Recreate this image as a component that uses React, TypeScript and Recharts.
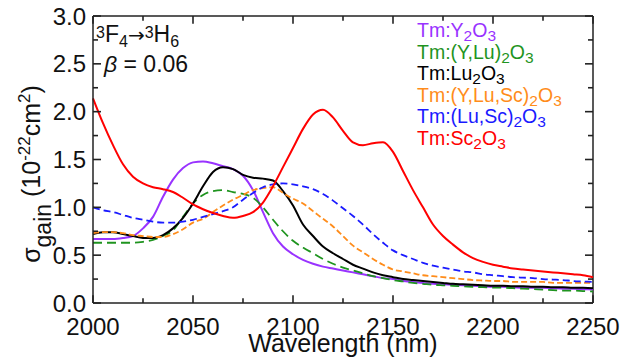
import React from 'react'
import { LineChart, Line, XAxis, YAxis, ReferenceLine, Customized } from 'recharts'

// wavelength grid (nm)
const WAVELENGTHS = [
  2000, 2005, 2010, 2015, 2020, 2025, 2030, 2035, 2040, 2045,
  2050, 2055, 2060, 2065, 2070, 2075, 2080, 2085, 2090, 2095,
  2100, 2105, 2110, 2115, 2120, 2125, 2130, 2135, 2140, 2145,
  2150, 2155, 2160, 2165, 2170, 2175, 2180, 2185, 2190, 2195,
  2200, 2205, 2210, 2215, 2220, 2225, 2230, 2235, 2240, 2245, 2250,
]

// gain cross-section, 10^-22 cm^2
const Y2O3 = [
  0.67, 0.67, 0.67, 0.68, 0.70, 0.78, 0.90, 1.11, 1.29, 1.41,
  1.47, 1.48, 1.46, 1.43, 1.40, 1.33, 1.18, 0.95, 0.73, 0.59,
  0.51, 0.45, 0.41, 0.38, 0.36, 0.34, 0.32, 0.30, 0.28, 0.26,
  0.25, 0.23, 0.22, 0.21, 0.20, 0.195, 0.19, 0.185, 0.18, 0.175,
  0.17, 0.17, 0.165, 0.16, 0.16, 0.16, 0.155, 0.15, 0.15, 0.145, 0.14,
]
const YLU2O3 = [
  0.63, 0.63, 0.63, 0.63, 0.63, 0.64, 0.66, 0.70, 0.76, 0.90,
  1.04, 1.13, 1.17, 1.18, 1.16, 1.14, 1.10, 1.00, 0.87, 0.75,
  0.65, 0.58, 0.52, 0.46, 0.41, 0.37, 0.34, 0.31, 0.28, 0.26,
  0.24, 0.225, 0.21, 0.20, 0.19, 0.185, 0.18, 0.175, 0.17, 0.165,
  0.16, 0.16, 0.155, 0.15, 0.145, 0.14, 0.135, 0.13, 0.13, 0.125, 0.12,
]
const LU2O3 = [
  0.72, 0.74, 0.74, 0.72, 0.70, 0.68, 0.68, 0.71, 0.78, 0.89,
  1.04, 1.22, 1.37, 1.42, 1.40, 1.34, 1.31, 1.30, 1.28, 1.17,
  1.02, 0.82, 0.70, 0.59, 0.52, 0.46, 0.40, 0.36, 0.32, 0.29,
  0.27, 0.25, 0.24, 0.23, 0.22, 0.21, 0.20, 0.195, 0.19, 0.185,
  0.18, 0.18, 0.175, 0.175, 0.17, 0.17, 0.165, 0.165, 0.16, 0.16, 0.155,
]
const YLUSC2O3 = [
  0.73, 0.74, 0.74, 0.73, 0.71, 0.70, 0.69, 0.69, 0.72, 0.77,
  0.84, 0.88, 0.95, 1.02, 1.08, 1.13, 1.18, 1.20, 1.21, 1.15,
  1.09, 1.04, 0.96, 0.88, 0.80, 0.70, 0.60, 0.53, 0.46, 0.40,
  0.35, 0.33, 0.31, 0.29, 0.28, 0.27, 0.26, 0.25, 0.24, 0.235,
  0.23, 0.23, 0.22, 0.22, 0.22, 0.22, 0.21, 0.21, 0.21, 0.21, 0.21,
]
const LUSC2O3 = [
  1.00, 0.97, 0.95, 0.92, 0.89, 0.87, 0.85, 0.84, 0.84, 0.85,
  0.87, 0.90, 0.93, 0.96, 1.00, 1.08, 1.15, 1.21, 1.24, 1.25,
  1.24, 1.22, 1.19, 1.14, 1.07, 0.99, 0.91, 0.82, 0.72, 0.63,
  0.55, 0.50, 0.46, 0.42, 0.39, 0.37, 0.35, 0.33, 0.32, 0.30,
  0.29, 0.28, 0.27, 0.265, 0.26, 0.25, 0.245, 0.24, 0.23, 0.225, 0.22,
]
const SC2O3 = [
  2.14, 1.88, 1.65, 1.45, 1.32, 1.25, 1.21, 1.19, 1.16, 1.10,
  1.03, 0.98, 0.94, 0.91, 0.89, 0.91, 0.95, 1.05, 1.22, 1.42,
  1.62, 1.82, 1.97, 2.02, 1.94, 1.80, 1.68, 1.65, 1.67, 1.68,
  1.58, 1.38, 1.18, 1.00, 0.82, 0.70, 0.61, 0.53, 0.47, 0.43,
  0.40, 0.38, 0.36, 0.35, 0.34, 0.33, 0.32, 0.31, 0.30, 0.29, 0.27,
]

const X_MAJOR = [2000, 2050, 2100, 2150, 2200, 2250]
const X_MINOR = [2025, 2075, 2125, 2175, 2225]
const Y_MAJOR = [0, 0.5, 1, 1.5, 2, 2.5, 3]
const Y_MINOR = [0.25, 0.75, 1.25, 1.75, 2.25, 2.75]

// legend prefix, every label ends in "2O3" with subscripts
const SERIES = [
  { key: 'y', prefix: 'Tm:Y', color: '#9933ff', dash: undefined },
  { key: 'ylu', prefix: 'Tm:(Y,Lu)', color: '#1f941f', dash: '9 5' },
  { key: 'lu', prefix: 'Tm:Lu', color: '#000000', dash: undefined },
  { key: 'ylusc', prefix: 'Tm:(Y,Lu,Sc)', color: '#ff8c1a', dash: '6 3' },
  { key: 'lusc', prefix: 'Tm:(Lu,Sc)', color: '#1a1aff', dash: '7 4' },
  { key: 'sc', prefix: 'Tm:Sc', color: '#ff0000', dash: undefined },
]

const rows = WAVELENGTHS.map((wl, i) => ({
  wl,
  y: Y2O3[i],
  ylu: YLU2O3[i],
  lu: LU2O3[i],
  ylusc: YLUSC2O3[i],
  lusc: LUSC2O3[i],
  sc: SC2O3[i],
}))

const X_DOMAIN: [number, number] = [2000, 2250]
const Y_DOMAIN: [number, number] = [0, 3]

const FONT = '"Liberation Sans", Arial, sans-serif'
const AX = '#222'
const TXT = '#111'

// inward tick lengths in data units (≈8px / 5px at this size)
const TX_MAJ = 0.08
const TX_MIN = 0.05
const TY_MAJ = 4
const TY_MIN = 2.5

type Pt = { x: number; y: number }

// tick marks as short segments in data coordinates
function buildTicks() {
  const out: Array<{ key: string; seg: [Pt, Pt] }> = []
  X_MAJOR.concat(X_MINOR).forEach(x => {
    const len = X_MAJOR.includes(x) ? TX_MAJ : TX_MIN
    out.push({ key: `b${x}`, seg: [{ x, y: Y_DOMAIN[0] }, { x, y: Y_DOMAIN[0] + len }] })
    out.push({ key: `t${x}`, seg: [{ x, y: Y_DOMAIN[1] }, { x, y: Y_DOMAIN[1] - len }] })
  })
  Y_MAJOR.concat(Y_MINOR).forEach(y => {
    const len = Y_MAJOR.includes(y) ? TY_MAJ : TY_MIN
    out.push({ key: `l${y}`, seg: [{ x: X_DOMAIN[0], y }, { x: X_DOMAIN[0] + len, y }] })
    out.push({ key: `r${y}`, seg: [{ x: X_DOMAIN[1], y }, { x: X_DOMAIN[1] - len, y }] })
  })
  return out
}
const TICKS = buildTicks()

function Texts() {
  return (
    <g fontFamily={FONT}>
      {/* y title */}
      <text x={40} y={174} transform="rotate(-90 40 174)" textAnchor="middle" fontSize={25} fill={TXT}>
        <tspan>σ</tspan>
        <tspan fontSize={23} dy={11}>gain</tspan>
        <tspan dy={-11}> (10</tspan>
        <tspan fontSize={17} dy={-10}>-22</tspan>
        <tspan dy={10}>cm</tspan>
        <tspan fontSize={17} dy={-10}>2</tspan>
        <tspan dy={10}>)</tspan>
      </text>

      {/* x title */}
      <text x={343} y={352} textAnchor="middle" fontSize={25} fill={TXT}>Wavelength (nm)</text>

      {/* transition annotation */}
      <text x={96} y={42} fontSize={23} fill={TXT}>
        <tspan fontSize={16} dy={-4}>3</tspan>
        <tspan dy={4}>F</tspan>
        <tspan fontSize={16} dy={5}>4</tspan>
        <tspan dy={-5} fontFamily='"DejaVu Sans"' fontSize={20}>→</tspan>
        <tspan fontSize={16} dy={-4}>3</tspan>
        <tspan dy={4}>H</tspan>
        <tspan fontSize={16} dy={5}>6</tspan>
      </text>
      <text x={104} y={72} fontSize={23} fill={TXT}>
        <tspan fontStyle="italic">β</tspan>
        <tspan> = 0.06</tspan>
      </text>

      {/* legend */}
      {SERIES.map((s, i) => (
        <text key={s.key} x={417} y={37 + i * 21.6} fontSize={19.5} fill={s.color}>
          <tspan>{s.prefix}</tspan>
          <tspan fontSize={15.5} dy={4}>2</tspan>
          <tspan dy={-4}>O</tspan>
          <tspan fontSize={15.5} dy={4}>3</tspan>
        </text>
      ))}
    </g>
  )
}

export default function App() {
  return (
    <div style={{ position: 'absolute', left: 0, top: 0, width: 620, height: 363, background: '#fff' }}>
      <LineChart width={620} height={363} data={rows} margin={{ top: 16, right: 27, bottom: 0, left: 0 }}>
        <XAxis
          xAxisId="main" dataKey="wl" type="number" domain={X_DOMAIN} ticks={X_MAJOR}
          height={60} tickLine={false} tickMargin={9}
          axisLine={{ stroke: AX, strokeWidth: 1.5 }}
          tick={{ fontSize: 24, fill: TXT, fontFamily: FONT }}
        />
        <YAxis
          yAxisId="main" type="number" domain={Y_DOMAIN} ticks={Y_MAJOR}
          width={93} tickLine={false} tickMargin={1}
          tickFormatter={(v: number) => v.toFixed(1)}
          axisLine={{ stroke: AX, strokeWidth: 1.5 }}
          tick={{ fontSize: 24, fill: TXT, fontFamily: FONT }}
        />

        {/* top and right frame */}
        <ReferenceLine xAxisId="main" yAxisId="main" y={Y_DOMAIN[1]} stroke={AX} strokeWidth={1.5} />
        <ReferenceLine xAxisId="main" yAxisId="main" x={X_DOMAIN[1]} stroke={AX} strokeWidth={1.5} />

        {SERIES.map(s => (
          <Line
            key={s.key}
            xAxisId="main"
            yAxisId="main"
            type="monotone"
            dataKey={s.key}
            stroke={s.color}
            strokeWidth={s.dash ? 1.8 : 2}
            strokeDasharray={s.dash}
            dot={false}
            activeDot={false}
            isAnimationActive={false}
          />
        ))}

        {/* inward ticks on all four sides */}
        {TICKS.map(t => (
          <ReferenceLine
            key={t.key}
            xAxisId="main"
            yAxisId="main"
            segment={t.seg}
            ifOverflow="visible"
            stroke={AX}
            strokeWidth={1.6}
          />
        ))}

        <Customized component={<Texts />} />
      </LineChart>
    </div>
  )
}
